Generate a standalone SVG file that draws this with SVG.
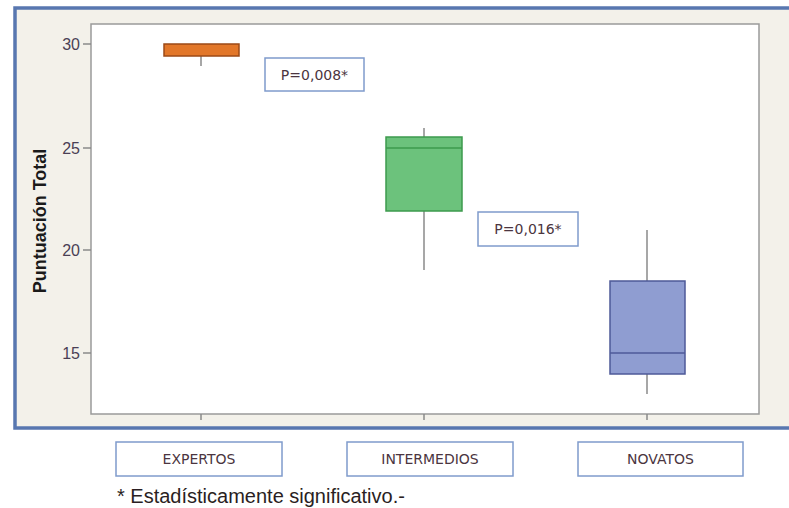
<svg xmlns="http://www.w3.org/2000/svg" width="789" height="508" viewBox="0 0 789 508">
<style>
.tick{font-family:"Liberation Sans",Arial,sans-serif;font-size:16px;fill:#4a3f55;text-anchor:end}
.lbl{font-family:"DejaVu Sans",Verdana,sans-serif;font-size:14px;fill:#4b3540;text-anchor:middle}
.pbox{fill:#ffffff;stroke:#7f9bcc;stroke-width:1.5}
.wh{stroke:#8a8a8a;stroke-width:1.5;fill:none}
.tk{stroke:#8a8a8a;stroke-width:1.5}
</style>
<rect width="789" height="508" fill="#ffffff"/>
<!-- frame -->
<rect x="15" y="8" width="790" height="420" fill="#f3f1ea" stroke="#5877b0" stroke-width="3.5"/>
<!-- plot area -->
<rect x="91" y="24" width="668" height="390" fill="#ffffff" stroke="#9a9a9a" stroke-width="1.5"/>
<!-- y ticks -->
<g id="y-axis">
<line class="tk" x1="83" y1="44" x2="91" y2="44"/>
<line class="tk" x1="83" y1="148" x2="91" y2="148"/>
<line class="tk" x1="83" y1="250" x2="91" y2="250"/>
<line class="tk" x1="83" y1="353" x2="91" y2="353"/>
<text class="tick" x="80" y="50">30</text>
<text class="tick" x="80" y="154">25</text>
<text class="tick" x="80" y="256">20</text>
<text class="tick" x="80" y="359">15</text>
<text x="46" y="221" transform="rotate(-90 46 221)" font-family="Liberation Sans,Arial,sans-serif" font-weight="bold" font-size="18" fill="#1a1a1a" text-anchor="middle">Puntuación Total</text>
</g>
<!-- x ticks -->
<g id="x-ticks">
<line class="tk" x1="201" y1="414" x2="201" y2="420"/>
<line class="tk" x1="424" y1="414" x2="424" y2="420"/>
<line class="tk" x1="647" y1="414" x2="647" y2="420"/>
</g>
<g id="box-expertos">
<line class="wh" x1="201" y1="56" x2="201" y2="66"/>
<rect x="164" y="44" width="75" height="12" fill="#e2772a" stroke="#9c4a17" stroke-width="1.5"/>
</g>
<g id="box-intermedios">
<line class="wh" x1="424" y1="128" x2="424" y2="137"/>
<line class="wh" x1="424" y1="211" x2="424" y2="270"/>
<rect x="386" y="137" width="76" height="74" fill="#6cc27c" stroke="#3d9a4d" stroke-width="1.5"/>
<line x1="386" y1="148" x2="462" y2="148" stroke="#3d9a4d" stroke-width="1.5"/>
</g>
<g id="box-novatos">
<line class="wh" x1="647" y1="230" x2="647" y2="281"/>
<line class="wh" x1="647" y1="374" x2="647" y2="394"/>
<rect x="610" y="281" width="75" height="93" fill="#8f9dd1" stroke="#4e5a98" stroke-width="1.5"/>
<line x1="610" y1="353" x2="685" y2="353" stroke="#4e5a98" stroke-width="1.5"/>
</g>
<g id="p1">
<rect class="pbox" x="265" y="58" width="99" height="33"/>
<text class="lbl" x="314.5" y="80">P=0,008*</text>
</g>
<g id="p2">
<rect class="pbox" x="478" y="212" width="100" height="34"/>
<text class="lbl" x="528" y="234">P=0,016*</text>
</g>
<g id="cat-expertos">
<rect class="pbox" x="116" y="442" width="166" height="34"/>
<text class="lbl" x="199" y="464">EXPERTOS</text>
</g>
<g id="cat-intermedios">
<rect class="pbox" x="347" y="442" width="166" height="34"/>
<text class="lbl" x="430" y="464">INTERMEDIOS</text>
</g>
<g id="cat-novatos">
<rect class="pbox" x="578" y="442" width="165" height="34"/>
<text class="lbl" x="660.5" y="464">NOVATOS</text>
</g>
<g id="connectors"></g>
<text x="117" y="503" font-family="Liberation Sans,Arial,sans-serif" font-size="20" fill="#2a1e22">* Estadísticamente significativo.-</text>
</svg>
